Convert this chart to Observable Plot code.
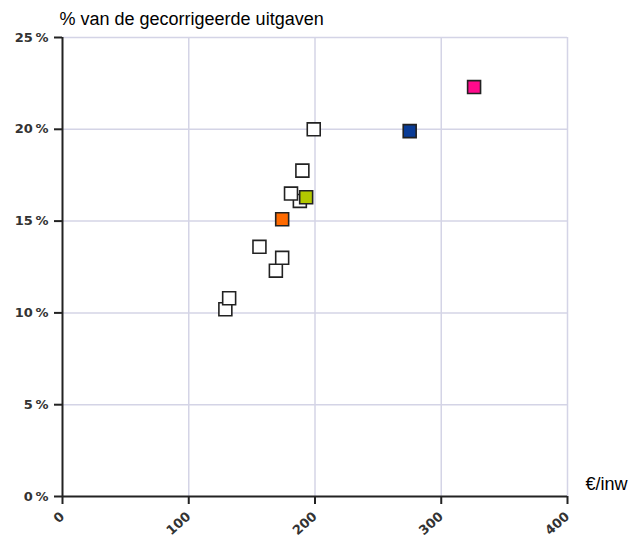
<!DOCTYPE html>
<html>
<head>
<meta charset="utf-8">
<script src="https://cdn.jsdelivr.net/npm/d3@7"></script>
<script src="https://cdn.jsdelivr.net/npm/@observablehq/plot@0.6"></script>
<style>
  html, body { margin: 0; padding: 0; background: #fff; }
  #chart svg { display: block; }
</style>
</head>
<body>
<div id="chart"></div>
<script>
// Data
const spending = [129, 132, 169, 174, 156, 188, 181, 190, 199, 174, 193, 275, 326]; // €/inw
const share    = [10.2, 10.8, 12.3, 13.0, 13.6, 16.1, 16.5, 17.75, 20.0, 15.1, 16.3, 19.9, 22.3]; // %
const group    = ["other","other","other","other","other","other","other","other","other","orange","green","blue","pink"];
const groupColors = {other: "#ffffff", orange: "#ff6a00", green: "#b3c800", blue: "#0a3c96", pink: "#ff0a8c"};

const xTicks = [0, 100, 200, 300, 400];
const yTicks = [0, 5, 10, 15, 20, 25];
const yTitle = "% van de gecorrigeerde uitgaven";
const xTitle = "€/inw";

const data = spending.map((x, i) => ({x, y: share[i], g: group[i]}));

const chart = Plot.plot({
  width: 631,
  height: 537,
  marginLeft: 62,
  marginRight: 64,
  marginTop: 37,
  marginBottom: 41,
  style: {fontFamily: "DejaVu Sans, sans-serif", fontSize: "12px", color: "#222", background: "#fff"},
  x: {domain: [0, 400]},
  y: {domain: [0, 25]},
  marks: [
    Plot.gridX(xTicks.filter(d => d > 0), {stroke: "#d4d4e6", strokeOpacity: 1, strokeWidth: 1.5}),
    Plot.gridY(yTicks.filter(d => d > 0), {stroke: "#d4d4e6", strokeOpacity: 1, strokeWidth: 1.5}),
    Plot.axisX(xTicks, {tickSize: 8, tickPadding: 10, tickRotate: -42, label: null, stroke: "#222", strokeWidth: 2, fill: "#333", fontSize: 13, fontWeight: "bold"}),
    Plot.axisY(yTicks, {tickSize: 8, tickPadding: 6, label: null, tickFormat: d => d + "\u2009%", stroke: "#222", strokeWidth: 2, fill: "#333", fontSize: 13, fontWeight: "bold"}),
    Plot.ruleX([0], {stroke: "#222", strokeWidth: 2}),
    Plot.ruleY([0], {stroke: "#222", strokeWidth: 2}),
    Plot.dot(data, {x: "x", y: "y", symbol: "square", r: 7.3, fill: d => groupColors[d.g], stroke: "#222", strokeWidth: 1.6}),
    Plot.text([yTitle], {frameAnchor: "top-left", textAnchor: "start", lineAnchor: "bottom", dx: -3, dy: -13, fontSize: 18, fontFamily: "Liberation Sans, Arial, sans-serif", fill: "#000"}),
    Plot.text([xTitle], {frameAnchor: "bottom-right", textAnchor: "start", lineAnchor: "bottom", dx: 18, dy: -7, fontSize: 18, fontFamily: "Liberation Sans, Arial, sans-serif", fill: "#000"})
  ]
});
document.getElementById("chart").appendChild(chart);
</script>
</body>
</html>
